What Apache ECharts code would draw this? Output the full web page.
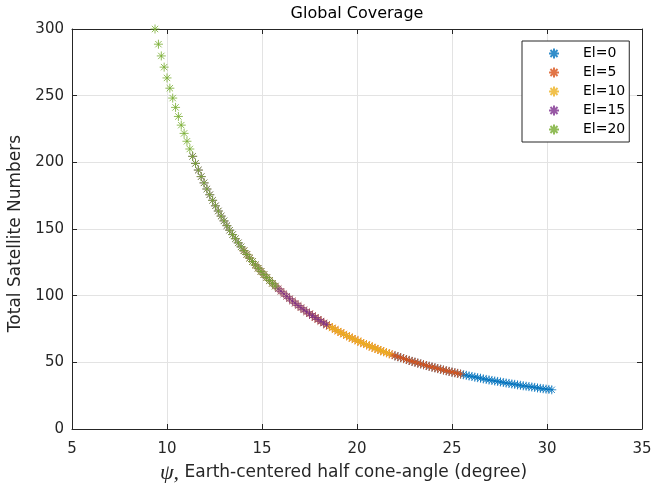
<!DOCTYPE html>
<html>
<head>
<meta charset="utf-8">
<script src="https://cdn.jsdelivr.net/npm/echarts@6/dist/echarts.min.js"></script>
<style>html,body{margin:0;padding:0;background:#fff}#c{width:654px;height:483px}</style>
</head>
<body>
<div id="c"></div>
<script>
const seriesNames = ['El=0', 'El=5', 'El=10', 'El=15', 'El=20'];
const colors = ['#0072BD', '#D95319', '#EDB120', '#7E2F8E', '#77AC30'];
const xTicks = [5, 10, 15, 20, 25, 30, 35];
const yTicks = [0, 50, 100, 150, 200, 250, 300];

const psiEl0 = [22.00,22.15,22.30,22.45,22.60,22.75,22.90,23.05,23.20,23.35,23.50,23.65,23.80,23.95,24.10,24.25,24.40,24.55,24.70,24.85,25.00,25.15,25.30,25.45,25.60,25.75,25.90,26.05,26.20,26.35,26.50,26.65,26.80,26.95,27.10,27.25,27.40,27.55,27.70,27.85,28.00,28.15,28.30,28.45,28.60,28.75,28.90,29.05,29.20,29.35,29.50,29.65,29.80,29.95,30.10,30.25];
const numEl0 = [54.9,54.2,53.5,52.8,52.1,51.4,50.7,50.1,49.5,48.8,48.2,47.6,47.0,46.5,45.9,45.3,44.8,44.2,43.7,43.2,42.7,42.2,41.7,41.2,40.7,40.3,39.8,39.4,38.9,38.5,38.1,37.6,37.2,36.8,36.4,36.0,35.7,35.3,34.9,34.5,34.2,33.8,33.5,33.1,32.8,32.4,32.1,31.8,31.5,31.2,30.8,30.5,30.2,29.9,29.7,29.4];

const psiEl5 = [17.50,17.65,17.80,17.95,18.10,18.25,18.40,18.55,18.70,18.85,19.00,19.15,19.30,19.45,19.60,19.75,19.90,20.05,20.20,20.35,20.50,20.65,20.80,20.95,21.10,21.25,21.40,21.55,21.70,21.85,22.00,22.15,22.30,22.45,22.60,22.75,22.90,23.05,23.20,23.35,23.50,23.65,23.80,23.95,24.10,24.25,24.40,24.55,24.70,24.85,25.00,25.15,25.30,25.45];
const numEl5 = [86.4,85.0,83.6,82.2,80.8,79.5,78.2,77.0,75.8,74.6,73.4,72.3,71.2,70.1,69.0,68.0,67.0,66.0,65.0,64.1,63.2,62.3,61.4,60.5,59.7,58.8,58.0,57.2,56.4,55.7,54.9,54.2,53.5,52.8,52.1,51.4,50.7,50.1,49.5,48.8,48.2,47.6,47.0,46.5,45.9,45.3,44.8,44.2,43.7,43.2,42.7,42.2,41.7,41.2];

const psiEl10 = [14.05,14.20,14.35,14.50,14.65,14.80,14.95,15.10,15.25,15.40,15.55,15.70,15.85,16.00,16.15,16.30,16.45,16.60,16.75,16.90,17.05,17.20,17.35,17.50,17.65,17.80,17.95,18.10,18.25,18.40,18.55,18.70,18.85,19.00,19.15,19.30,19.45,19.60,19.75,19.90,20.05,20.20,20.35,20.50,20.65,20.80,20.95,21.10,21.25,21.40,21.55,21.70];
const numEl10 = [133.7,130.9,128.2,125.6,123.0,120.6,118.2,115.8,113.6,111.4,109.3,107.2,105.2,103.3,101.4,99.5,97.7,96.0,94.3,92.6,91.0,89.4,87.9,86.4,85.0,83.6,82.2,80.8,79.5,78.2,77.0,75.8,74.6,73.4,72.3,71.2,70.1,69.0,68.0,67.0,66.0,65.0,64.1,63.2,62.3,61.4,60.5,59.7,58.8,58.0,57.2,56.4];

const psiEl15 = [11.35,11.50,11.65,11.80,11.95,12.10,12.25,12.40,12.55,12.70,12.85,13.00,13.15,13.30,13.45,13.60,13.75,13.90,14.05,14.20,14.35,14.50,14.65,14.80,14.95,15.10,15.25,15.40,15.55,15.70,15.85,16.00,16.15,16.30,16.45,16.60,16.75,16.90,17.05,17.20,17.35,17.50,17.65,17.80,17.95,18.10,18.25,18.40];
const numEl15 = [204.5,199.2,194.2,189.3,184.6,180.0,175.7,171.5,167.4,163.5,159.7,156.1,152.5,149.1,145.8,142.7,139.6,136.6,133.7,130.9,128.2,125.6,123.0,120.6,118.2,115.8,113.6,111.4,109.3,107.2,105.2,103.3,101.4,99.5,97.7,96.0,94.3,92.6,91.0,89.4,87.9,86.4,85.0,83.6,82.2,80.8,79.5,78.2];

const psiEl20 = [9.37,9.55,9.70,9.85,10.00,10.15,10.30,10.45,10.60,10.75,10.90,11.05,11.20,11.35,11.50,11.65,11.80,11.95,12.10,12.25,12.40,12.55,12.70,12.85,13.00,13.15,13.30,13.45,13.60,13.75,13.90,14.05,14.20,14.35,14.50,14.65,14.80,14.95,15.10,15.25,15.40,15.55,15.70];
const numEl20 = [300.0,288.6,279.8,271.4,263.3,255.6,248.2,241.2,234.4,227.9,221.7,215.8,210.0,204.5,199.2,194.2,189.3,184.6,180.0,175.7,171.5,167.4,163.5,159.7,156.1,152.5,149.1,145.8,142.7,139.6,136.6,133.7,130.9,128.2,125.6,123.0,120.6,118.2,115.8,113.6,111.4,109.3,107.2];

const psiAll = [psiEl0, psiEl5, psiEl10, psiEl15, psiEl20];
const numAll = [numEl0, numEl5, numEl10, numEl15, numEl20];

const star = 'path://M0,-10L0,10M-10,0L10,0M-7.07,-7.07L7.07,7.07M-7.07,7.07L7.07,-7.07';
const font = 'DejaVu Sans, Liberation Sans, sans-serif';
const ink = '#262626';

const chart = echarts.init(document.getElementById('c'), null, {renderer: 'canvas'});

const series = seriesNames.map((name, i) => ({
  name: name,
  type: 'scatter',
  symbol: star,
  symbolSize: 9,
  clip: false,
  itemStyle: {color: colors[i], borderColor: colors[i], borderWidth: 1},
  emphasis: {disabled: true},
  data: psiAll[i].map((x, j) => [x, numAll[i][j]])
}));

const baseAxis = {
  axisLine: {show: true, onZero: false, lineStyle: {color: ink, width: 1}},
  axisTick: {show: true, inside: true, length: 5, lineStyle: {color: ink}},
};

chart.setOption({
  animation: false,
  backgroundColor: '#fff',
  title: {
    text: 'Global Coverage', left: 357, top: 6, textAlign: 'center', padding: 0,
    textStyle: {fontFamily: font, fontSize: 16, fontWeight: 'normal', color: '#000'}
  },
  legend: {
    orient: 'vertical', left: 522, top: 41,
    padding: [3, 4, 3, 26], itemGap: 0, itemWidth: 48, itemHeight: 10,
    borderColor: ink, borderWidth: 1, backgroundColor: '#fff',
    textStyle: {fontFamily: font, fontSize: 14, color: '#000', lineHeight: 19},
    data: seriesNames
  },
  grid: {left: 72, right: 12, top: 29, bottom: 54, containLabel: false, outerBoundsMode: 'none'},
  xAxis: [Object.assign({}, baseAxis, {
    type: 'value', min: xTicks[0], max: xTicks[xTicks.length - 1], interval: 5, position: 'bottom',
    name: '{p|ψ,} Earth-centered half cone-angle (degree)', nameLocation: 'middle', nameGap: 33,
    nameTextStyle: {fontFamily: font, fontSize: 17, color: ink, padding: [0, 27, 0, 0],
      rich: {p: {fontFamily: 'Liberation Serif, DejaVu Serif, serif', fontStyle: 'italic', fontSize: 22, color: ink}}},
    axisLabel: {fontFamily: font, fontSize: 15, color: ink, margin: 13},
    splitLine: {show: true, lineStyle: {color: '#e3e3e3', width: 1}}
  }), Object.assign({}, baseAxis, {
    type: 'value', min: xTicks[0], max: xTicks[xTicks.length - 1], interval: 5, position: 'top',
    axisLabel: {show: false}, splitLine: {show: false}
  })],
  yAxis: [Object.assign({}, baseAxis, {
    type: 'value', min: yTicks[0], max: yTicks[yTicks.length - 1], interval: 50, position: 'left',
    name: 'Total Satellite Numbers', nameLocation: 'middle', nameGap: 45,
    nameTextStyle: {fontFamily: font, fontSize: 17, color: ink, padding: [0, 9, 0, 0]},
    axisLabel: {fontFamily: font, fontSize: 15, color: ink, margin: 8},
    splitLine: {show: true, lineStyle: {color: '#e3e3e3', width: 1}}
  }), Object.assign({}, baseAxis, {
    type: 'value', min: yTicks[0], max: yTicks[yTicks.length - 1], interval: 50, position: 'right',
    axisLabel: {show: false}, splitLine: {show: false}
  })],
  series: series
});
</script>
</body>
</html>
